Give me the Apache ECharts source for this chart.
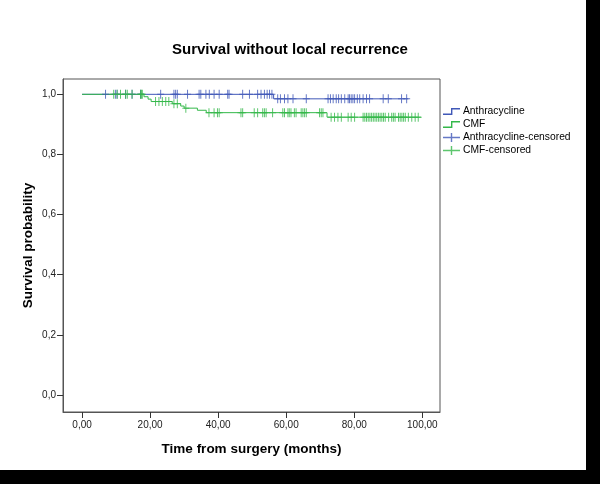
<!DOCTYPE html>
<html><head><meta charset="utf-8">
<script src="https://cdn.jsdelivr.net/npm/echarts@6/dist/echarts.min.js"></script>
<style>html,body{margin:0;padding:0;background:#000;overflow:hidden}#c{width:586px;height:470px;background:#fff;}</style>
</head><body><div id="c"></div>
<script>
const xTicks = [0, 20, 40, 60, 80, 100];
const yTicks = [0, 0.2, 0.4, 0.6, 0.8, 1.0];
const anthraTimes = [0, 56.3, 95.9];
const anthraSurv  = [1.0, 0.985, 0.985];
const cmfTimes = [0, 18.2, 19.4, 20.3, 26.5, 29.0, 30.0, 33.9, 36.5, 72.0, 99.6];
const cmfSurv  = [1.0, 0.992, 0.984, 0.976, 0.969, 0.961, 0.954, 0.947, 0.939, 0.924, 0.924];
const anthraCensored = [6.9, 9.8, 10.3, 12.8, 14.7, 17.2, 23.1, 27.0, 27.5, 28.0, 31.0, 34.4, 34.9, 36.4, 37.4, 38.8, 40.3, 42.8, 43.2, 47.2, 49.2, 51.6,
  52.6, 53.6, 54.4, 55.1, 55.8, 57.5, 58.3, 59.5, 60.5, 62.0, 65.9, 72.3, 73.0, 73.8, 74.7, 75.4, 76.2, 77.2, 78.2, 78.6, 79.1, 79.6, 80.1, 80.9, 81.6, 82.6, 83.6, 84.5, 88.5, 90.0, 93.9, 95.4];
const cmfCensored = [9.3, 10.3, 11.3, 12.8, 13.3, 14.7, 17.2, 17.5, 17.7,
  21.6, 22.6, 23.6, 24.6, 25.5, 27.0, 28.0, 30.5,
  37.3, 38.8, 39.8, 40.3, 46.7, 47.2, 50.6, 51.6, 53.1, 53.6, 54.1, 56.0, 59.0, 59.5, 60.5, 60.9, 61.4, 62.4, 62.9, 64.4, 64.9, 65.4, 65.9, 69.8, 70.3, 70.8,
  73.2, 74.2, 75.2, 76.2, 78.2, 79.1, 80.1, 82.6, 83.1, 83.6, 84.1, 84.6, 85.1, 85.6, 86.1, 86.6, 87.1, 87.6, 88.1, 88.6, 89.1, 90.1, 91.0, 91.5, 92.0, 93.0, 93.5, 94.0, 94.5, 95.0, 95.9, 96.9, 97.9, 98.8];

const BLUE = '#4058b8', GREEN = '#34b84a';
const FONT = 'Liberation Sans';
function pairs(t, s) { return t.map((v, i) => [v, s[i]]); }
function survAt(t, times, surv) { let s = surv[0]; for (let i = 0; i < times.length; i++) { if (times[i] <= t) s = surv[i]; } return s; }
const PLUS = 'path://M3,0h1v9h-1zM0,4h7v1h-7z';
const PLUS_LEG = 'path://M7.8,0h1.4v9h-1.4zM0,3.8h17v1.4h-17z';
const STEP = 'path://M0,5.6h8v-5.6h9v1.4h-7.6v5.6h-9.4z';

const chart = echarts.init(document.getElementById('c'), null, {renderer: 'canvas'});
chart.setOption({
  animation: false,
  backgroundColor: '#fff',
  title: { text: 'Survival without local recurrence', left: 167, top: 37,
    textStyle: { fontFamily: FONT, fontSize: 15, fontWeight: 'bold', color: '#000' } },
  grid: { left: 63, right: 146, top: 79, bottom: 58, show: true, borderColor: '#555', borderWidth: 1, backgroundColor: '#fff' },
  legend: {
    orient: 'vertical', left: 443, top: 105, padding: 0, itemGap: 0, itemWidth: 17, itemHeight: 9,
    itemStyle: { borderWidth: 0 },
    textStyle: { fontFamily: FONT, fontSize: 10.3, lineHeight: 13, color: '#000', padding: [0, 0, 0, -2] },
    data: [
      { name: 'Anthracycline', icon: STEP },
      { name: 'CMF', icon: STEP },
      { name: 'Anthracycline-censored', icon: PLUS_LEG },
      { name: 'CMF-censored', icon: PLUS_LEG }
    ]
  },
  xAxis: {
    type: 'value', min: -5.6, max: 105.2,
    name: 'Time from surgery (months)', nameLocation: 'middle', nameGap: 30,
    nameTextStyle: { fontFamily: FONT, fontSize: 13.5, fontWeight: 'bold', color: '#000' },
    axisLine: { show: true, onZero: false, lineStyle: { color: '#555' } },
    axisTick: { show: true, inside: false, length: 6, customValues: xTicks, lineStyle: { color: '#333' } },
    axisLabel: { customValues: xTicks, margin: 8, fontFamily: FONT, fontSize: 10, color: '#222',
      formatter: v => v.toFixed(2).replace('.', ',') },
    splitLine: { show: false }
  },
  yAxis: {
    type: 'value', min: -0.057, max: 1.051,
    name: 'Survival probability', nameLocation: 'middle', nameGap: 28, nameRotate: 90, nameMoveOverlap: false,
    nameTextStyle: { fontFamily: FONT, fontSize: 13.5, fontWeight: 'bold', color: '#000' },
    axisLine: { show: true, onZero: false, lineStyle: { color: '#555' } },
    axisTick: { show: true, inside: false, length: 6, customValues: yTicks, lineStyle: { color: '#333' } },
    axisLabel: { customValues: yTicks, margin: 7, fontFamily: FONT, fontSize: 10, color: '#222',
      formatter: v => v.toFixed(1).replace('.', ',') },
    splitLine: { show: false }
  },
  series: [
    { name: 'Anthracycline', type: 'line', step: 'end', data: pairs(anthraTimes, anthraSurv),
      showSymbol: false, color: BLUE, lineStyle: { width: 1, color: BLUE }, z: 3 },
    { name: 'CMF', type: 'line', step: 'end', data: pairs(cmfTimes, cmfSurv),
      showSymbol: false, color: GREEN, lineStyle: { width: 1, color: GREEN }, z: 3 },
    { name: 'Anthracycline-censored', type: 'scatter', symbol: PLUS, symbolSize: [7, 9], color: BLUE,
      data: anthraCensored.map(t => [t, survAt(t, anthraTimes, anthraSurv)]), z: 4 },
    { name: 'CMF-censored', type: 'scatter', symbol: PLUS, symbolSize: [7, 9], color: GREEN,
      data: cmfCensored.map(t => [t, survAt(t, cmfTimes, cmfSurv)]), z: 4 }
  ]
});
</script></body></html>
